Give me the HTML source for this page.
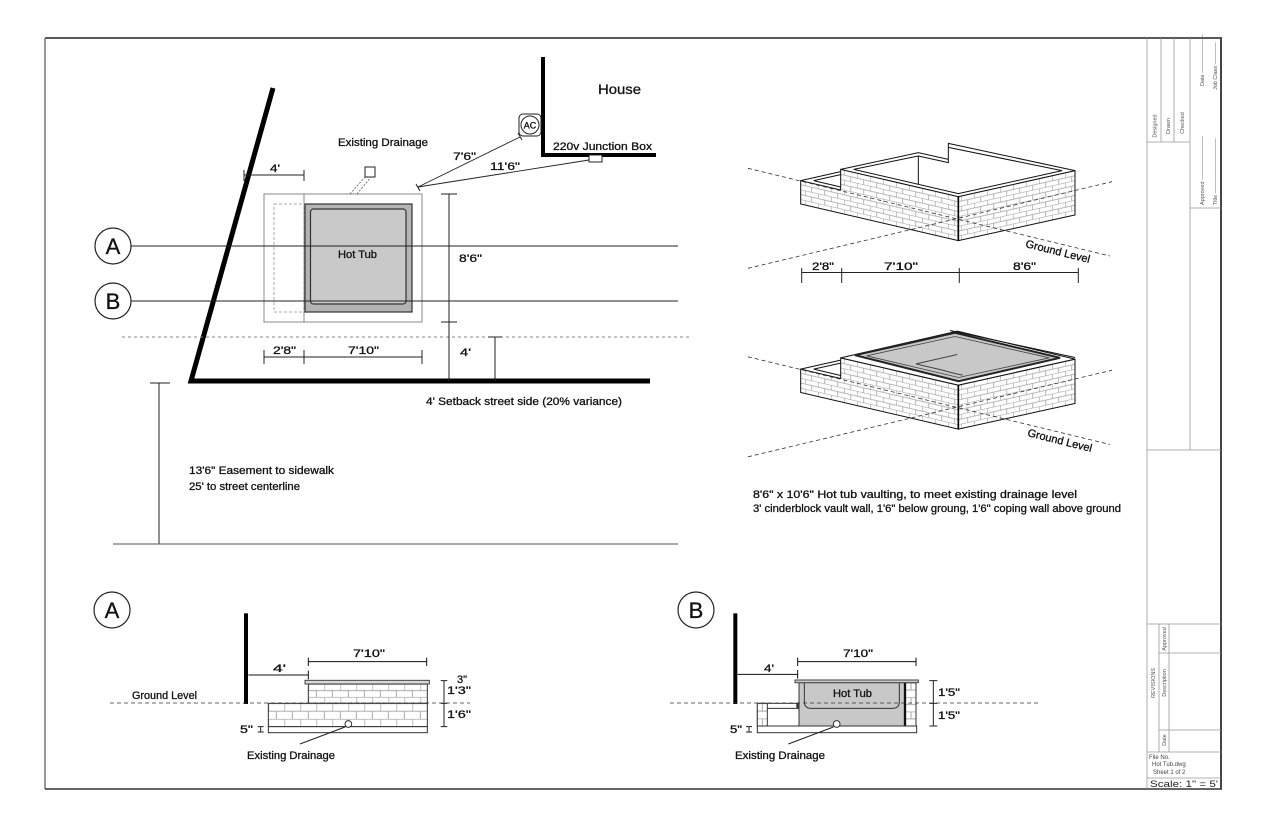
<!DOCTYPE html>
<html><head><meta charset="utf-8"><style>
html,body{margin:0;padding:0;background:#fff;}
svg{display:block;}
text{font-family:"Liberation Sans",sans-serif;fill:#111;stroke:#111;stroke-width:0.3px;}
.t{font-size:11px;}
.tb{font-size:5.5px;fill:#555;stroke:none;}
.tn{stroke:none;}
</style></head><body>
<svg xmlns="http://www.w3.org/2000/svg" width="1280" height="828" viewBox="0 0 1280 828">
<defs>
<pattern id="bf" patternUnits="userSpaceOnUse" width="39" height="29.4" patternTransform="translate(0,47.8) skewY(13.08)">
<rect width="39" height="29.4" fill="#fff"/>
<path d="M0,0.6H39M0,15.3H39M0.6,0.6V15.3M20,15.3V29.4" stroke="#a8a8a8" stroke-width="2.5" fill="none"/>
</pattern>
<pattern id="br" patternUnits="userSpaceOnUse" width="39" height="29.4" patternTransform="translate(0,346) skewY(-12.57)">
<rect width="39" height="29.4" fill="#fff"/>
<path d="M0,0.6H39M0,15.3H39M0.6,0.6V15.3M20,15.3V29.4" stroke="#a8a8a8" stroke-width="2.5" fill="none"/>
</pattern>
<pattern id="sU" patternUnits="userSpaceOnUse" x="655" y="282" width="48" height="38.67">
<rect width="48" height="38.67" fill="#fff"/>
<path d="M0,0.8H48M0,19.8H48M0.8,0V19.33M24,19.33V38.67" stroke="#aaa" stroke-width="3" fill="none"/>
</pattern>
<pattern id="sL" patternUnits="userSpaceOnUse" x="535" y="340" width="48" height="46.67">
<rect width="48" height="46.67" fill="#fff"/>
<path d="M0,0.8H48M0,23.8H48M0.8,0V23.33M24,23.33V46.67" stroke="#aaa" stroke-width="3" fill="none"/>
</pattern>
<pattern id="sR" patternUnits="userSpaceOnUse" x="708" y="278" width="30" height="43.33">
<rect width="30" height="43.33" fill="#fff"/>
<path d="M0,0.8H30M0,22.2H30M15,0V21.67" stroke="#aaa" stroke-width="3" fill="none"/>
</pattern>
<pattern id="sLL" patternUnits="userSpaceOnUse" x="262" y="340" width="30" height="45.33">
<rect width="30" height="45.33" fill="#fff"/>
<path d="M0,0.8H30M0,23.2H30M15,0V22.67" stroke="#aaa" stroke-width="3" fill="none"/>
</pattern>
</defs>

<!-- Border -->
<line x1="45" y1="38" x2="1222" y2="38" stroke="#222" stroke-width="1.5"/>
<line x1="45" y1="38" x2="45" y2="789" stroke="#777" stroke-width="1.5"/>
<line x1="45" y1="789" x2="1222" y2="789" stroke="#333" stroke-width="1.5"/>
<line x1="1221" y1="38" x2="1221" y2="789" stroke="#444" stroke-width="2"/>

<!-- Title block -->
<g stroke="#999" stroke-width="0.8" fill="none">
<line x1="1147" y1="38" x2="1147" y2="789"/>
<line x1="1161" y1="38" x2="1161" y2="142"/>
<line x1="1174" y1="38" x2="1174" y2="142"/>
<line x1="1190" y1="38" x2="1190" y2="450"/>
<line x1="1147" y1="142" x2="1190" y2="142"/>
<line x1="1190" y1="208" x2="1221" y2="208"/>
<line x1="1147" y1="450" x2="1221" y2="450"/>
<line x1="1147" y1="624" x2="1221" y2="624"/>
<line x1="1159" y1="624" x2="1159" y2="752"/>
<line x1="1169" y1="624" x2="1169" y2="752"/>
<line x1="1159" y1="653" x2="1221" y2="653"/>
<line x1="1159" y1="730" x2="1221" y2="730"/>
<line x1="1147" y1="752" x2="1221" y2="752"/>
<line x1="1147" y1="778" x2="1221" y2="778"/>
</g>
<text class="tb" text-anchor="middle" transform="translate(1156.5,126) rotate(-90)">Designed</text>
<text class="tb" text-anchor="middle" transform="translate(1170,126) rotate(-90)">Drawn</text>
<text class="tb" text-anchor="middle" transform="translate(1184,123) rotate(-90)">Checked</text>
<text class="tb" transform="translate(1204,86) rotate(-90)">Date ———————</text>
<text class="tb" transform="translate(1217,90) rotate(-90)">Job Class ————</text>
<text class="tb" transform="translate(1204,205) rotate(-90)">Approved ————————</text>
<text class="tb" transform="translate(1217,205) rotate(-90)">Title ——————————</text>
<text class="tb" text-anchor="middle" transform="translate(1155,683) rotate(-90)">REVISIONS</text>
<text class="tb" text-anchor="middle" transform="translate(1166,639) rotate(-90)">Approved</text>
<text class="tb" text-anchor="middle" transform="translate(1166,683) rotate(-90)">Description</text>
<text class="tb" text-anchor="middle" transform="translate(1166,740) rotate(-90)">Date</text>
<text class="tn" x="1149" y="759" style="font-size:6px;fill:#444">File No.</text>
<text class="tn" x="1152" y="766" style="font-size:6px;fill:#444">Hot Tub.dwg</text>
<text class="tn" x="1153" y="774" style="font-size:6px;fill:#444">Sheet   1  of  2</text>
<text class="tn" x="1150" y="787" style="font-size:9px;fill:#222" textLength="68" lengthAdjust="spacingAndGlyphs">Scale:  1" = 5'</text>

<!-- ================= PLAN ================= -->
<polyline points="273,88 191,381 650,381" fill="none" stroke="#000" stroke-width="5" stroke-linejoin="miter"/>
<polyline points="543,57 543,155 656,155" fill="none" stroke="#000" stroke-width="4"/>

<line x1="122" y1="337" x2="690" y2="337" stroke="#888" stroke-width="0.9" stroke-dasharray="3 3"/>

<rect x="264" y="194" width="158" height="128" fill="none" stroke="#888" stroke-width="1"/>
<line x1="304" y1="194" x2="304" y2="322" stroke="#888" stroke-width="1"/>
<rect x="274" y="204" width="30" height="108" fill="none" stroke="#aaa" stroke-width="1" stroke-dasharray="3 2"/>
<rect x="305" y="204" width="107" height="108" fill="#b4b4b4" stroke="#333" stroke-width="1.2"/>
<rect x="310.5" y="209" width="95.5" height="95" rx="3" fill="#c9c9c9" stroke="#333" stroke-width="1.2"/>

<line x1="131" y1="246" x2="678" y2="246" stroke="#222" stroke-width="1"/>
<line x1="131" y1="301" x2="678" y2="301" stroke="#222" stroke-width="1"/>
<circle cx="113" cy="246" r="18" fill="#fff" stroke="#222" stroke-width="1.2"/>
<circle cx="113" cy="301" r="18" fill="#fff" stroke="#222" stroke-width="1.2"/>
<text x="113" y="254" text-anchor="middle" style="font-size:22px">A</text>
<text x="113" y="309" text-anchor="middle" style="font-size:22px">B</text>

<rect x="365" y="167" width="10" height="10" fill="#fff" stroke="#222" stroke-width="1"/>
<line x1="350" y1="194" x2="365" y2="177" stroke="#555" stroke-width="0.8" stroke-dasharray="2 1.5"/>
<line x1="357" y1="194" x2="371" y2="177" stroke="#555" stroke-width="0.8" stroke-dasharray="2 1.5"/>

<rect x="519" y="114" width="22" height="22" rx="4" fill="#fff" stroke="#222" stroke-width="1"/>
<circle cx="530" cy="125" r="9" fill="#fff" stroke="#222" stroke-width="1"/>
<text x="530" y="128.5" text-anchor="middle" style="font-size:9px">AC</text>
<rect x="589" y="155" width="13" height="7" fill="#fff" stroke="#222" stroke-width="1"/>

<line x1="418" y1="187" x2="520" y2="137" stroke="#222" stroke-width="0.9"/>
<line x1="418" y1="187" x2="589" y2="160" stroke="#222" stroke-width="0.9"/>
<line x1="416" y1="184" x2="420" y2="191" stroke="#222" stroke-width="1"/>
<line x1="518" y1="133" x2="522" y2="140" stroke="#222" stroke-width="1"/>

<g stroke="#222" stroke-width="1" fill="none">
<path d="M244,175H304M244,170V181M304,170V181"/>
<path d="M449,194V381M441,194H457M441,322H457"/>
<path d="M264,357H422M264,350V364M304,350V364M422,350V364"/>
<path d="M495,337V381M488,337H502"/>
<path d="M159,383V544M150,383H170"/>
</g>
<line x1="113" y1="544" x2="678" y2="544" stroke="#555" stroke-width="1"/>

<text x="598" y="94" style="font-size:14px" textLength="43" lengthAdjust="spacingAndGlyphs">House</text>
<text class="t" x="553" y="150" textLength="99" lengthAdjust="spacingAndGlyphs">220v Junction Box</text>
<text class="t" x="338" y="146" textLength="90" lengthAdjust="spacingAndGlyphs">Existing Drainage</text>
<text class="t" x="453" y="160" textLength="23" lengthAdjust="spacingAndGlyphs">7'6"</text>
<text class="t" x="490" y="170" textLength="30" lengthAdjust="spacingAndGlyphs">11'6"</text>
<text class="t" x="270" y="172" textLength="10" lengthAdjust="spacingAndGlyphs">4'</text>
<text class="t" x="338" y="258" textLength="39" lengthAdjust="spacingAndGlyphs">Hot Tub</text>
<text class="t" x="459" y="262" textLength="23" lengthAdjust="spacingAndGlyphs">8'6"</text>
<text class="t" x="273" y="354" textLength="23" lengthAdjust="spacingAndGlyphs">2'8"</text>
<text class="t" x="348" y="354" textLength="31" lengthAdjust="spacingAndGlyphs">7'10"</text>
<text class="t" x="460" y="356" textLength="11" lengthAdjust="spacingAndGlyphs">4'</text>
<text class="t" x="426" y="405" textLength="196" lengthAdjust="spacingAndGlyphs">4' Setback street side (20% variance)</text>
<text class="t" x="189" y="474" textLength="145" lengthAdjust="spacingAndGlyphs">13'6" Easement to sidewalk</text>
<text class="t" x="189" y="490" textLength="111" lengthAdjust="spacingAndGlyphs">25' to street centerline</text>

<!-- ================= ISO 1 ================= -->
<g transform="translate(740,130) scale(0.333333)" stroke-linejoin="miter">
<polygon points="182,152 302,180 302,118 655,200 655,332 182,222" fill="url(#bf)" stroke="#111" stroke-width="3"/>
<polygon points="655,200 1005,122 1005,255 655,332" fill="url(#br)" stroke="#111" stroke-width="3"/>
<path d="M182,152L302,125M221,152L302,134M221,152L302,171M302,118L535,68L625,88L625,40L1005,122M341,118L535,78L535,164M535,78L625,98L625,52L966,122L655,191L341,118" fill="none" stroke="#111" stroke-width="3"/>
<line x1="655" y1="200" x2="655" y2="332" stroke="#000" stroke-width="5"/>
</g>
<line x1="748" y1="168.3" x2="1110" y2="256" stroke="#333" stroke-width="0.8" stroke-dasharray="4 3"/>
<line x1="748" y1="268.3" x2="1112" y2="181.7" stroke="#333" stroke-width="0.8" stroke-dasharray="4 3"/>
<text class="t" text-anchor="middle" transform="translate(1057,255) rotate(14)" textLength="66" lengthAdjust="spacingAndGlyphs">Ground Level</text>
<g stroke="#222" stroke-width="1" fill="none">
<path d="M801.7,272.5H1078.3M801.7,268V283M841.7,268V283M959.3,268V283M1078.3,268V283"/>
</g>
<text class="t" x="812" y="270" textLength="22" lengthAdjust="spacingAndGlyphs">2'8"</text>
<text class="t" x="884" y="270" textLength="34" lengthAdjust="spacingAndGlyphs">7'10"</text>
<text class="t" x="1013" y="270" textLength="23" lengthAdjust="spacingAndGlyphs">8'6"</text>

<!-- ================= ISO 2 ================= -->
<g transform="translate(740,318.5) scale(0.333333)">
<polygon points="182,152 302,180 302,118 655,200 655,332 182,222" fill="url(#bf)" stroke="#111" stroke-width="3"/>
<polygon points="655,200 1005,122 1005,255 655,332" fill="url(#br)" stroke="#111" stroke-width="3"/>
<polygon points="302,118 652,38 1005,122 655,200" fill="#fff" stroke="#111" stroke-width="3"/>
<path d="M182,152L302,125M221,152L302,134M221,152L302,171M630,36L1005,117" fill="none" stroke="#111" stroke-width="3"/>
<polygon points="345,110 645,43 960,118 656,188" fill="#c8c8c8" stroke="#222" stroke-width="6"/>
<polygon points="380,112 645,54 928,118 656,177" fill="none" stroke="#444" stroke-width="2.5"/>
<path d="M528,136L652,108M528,136L612,156Q630,162 668,170" fill="none" stroke="#444" stroke-width="3"/>
<line x1="655" y1="200" x2="655" y2="332" stroke="#000" stroke-width="5"/>
</g>
<line x1="748" y1="356.8" x2="1110" y2="444.5" stroke="#333" stroke-width="0.8" stroke-dasharray="4 3"/>
<line x1="748" y1="456.8" x2="1112" y2="370.2" stroke="#333" stroke-width="0.8" stroke-dasharray="4 3"/>
<text class="t" text-anchor="middle" transform="translate(1059,444) rotate(14)" textLength="66" lengthAdjust="spacingAndGlyphs">Ground Level</text>

<text class="t" x="753" y="498" textLength="324" lengthAdjust="spacingAndGlyphs">8'6" x 10'6" Hot tub vaulting, to meet existing drainage level</text>
<text class="t" x="753" y="512" textLength="368" lengthAdjust="spacingAndGlyphs">3' cinderblock vault wall, 1'6" below groung, 1'6" coping wall above ground</text>

<!-- ================= SECTION A ================= -->
<circle cx="112" cy="610" r="18" fill="#fff" stroke="#222" stroke-width="1.2"/>
<text x="112" y="618" text-anchor="middle" style="font-size:22px">A</text>
<g transform="translate(90,590) scale(0.333333)">
<rect x="462" y="70" width="12" height="272" fill="#000"/>
<path d="M475,255H655M655,242V268M655,215H1010M655,203V228M1010,203V228" stroke="#111" stroke-width="3" fill="none"/>
<rect x="645" y="271" width="373" height="11" fill="#d8d8d8" stroke="#444" stroke-width="3"/>
<rect x="655" y="282" width="357" height="58" fill="url(#sU)" stroke="#333" stroke-width="3"/>
<rect x="535" y="340" width="477" height="70" fill="url(#sL)" stroke="#333" stroke-width="3"/>
<rect x="535" y="410" width="477" height="18" fill="#fff" stroke="#333" stroke-width="3"/>
<circle cx="775" cy="402" r="10" fill="#fff" stroke="#333" stroke-width="3"/>
<path d="M765,411L630,462M503,410H521M512,410V426M503,426H521M1062,272V410M1052,272H1072M1052,340H1072M1052,410H1072" stroke="#222" stroke-width="3" fill="none"/>
</g>
<line x1="110" y1="703" x2="470" y2="703" stroke="#333" stroke-width="0.8" stroke-dasharray="4 3"/>
<text class="t" x="132" y="699" textLength="65" lengthAdjust="spacingAndGlyphs">Ground Level</text>
<text class="t" x="273" y="672" textLength="13" lengthAdjust="spacingAndGlyphs">4'</text>
<text class="t" x="353" y="657" textLength="32" lengthAdjust="spacingAndGlyphs">7'10"</text>
<text class="t" x="457" y="683" textLength="10" lengthAdjust="spacingAndGlyphs">3"</text>
<text class="t" x="447" y="694" textLength="24" lengthAdjust="spacingAndGlyphs">1'3"</text>
<text class="t" x="447" y="718" textLength="24" lengthAdjust="spacingAndGlyphs">1'6"</text>
<text class="t" x="240" y="733" textLength="13" lengthAdjust="spacingAndGlyphs">5"</text>
<text class="t" x="247" y="759" textLength="88" lengthAdjust="spacingAndGlyphs">Existing Drainage</text>

<!-- ================= SECTION B ================= -->
<circle cx="696" cy="610" r="18" fill="#fff" stroke="#222" stroke-width="1.2"/>
<text x="696" y="618" text-anchor="middle" style="font-size:22px">B</text>
<g transform="translate(670,590) scale(0.333333)">
<rect x="190" y="70" width="12" height="272" fill="#000"/>
<path d="M203,253H383M383,240V266M383,215H738M383,203V228M738,203V228" stroke="#111" stroke-width="3" fill="none"/>
<rect x="262" y="340" width="125" height="68" fill="#fff" stroke="#333" stroke-width="3"/>
<rect x="262" y="340" width="30" height="68" fill="url(#sLL)" stroke="#333" stroke-width="3"/>
<path d="M292,355H387" stroke="#333" stroke-width="3"/>
<rect x="379" y="340" width="10" height="15" fill="#333"/>
<rect x="387" y="278" width="318" height="130" fill="#c8c8c8" stroke="#333" stroke-width="3"/>
<path d="M403,278V335Q403,355 423,355H668Q688,355 688,335V278" fill="none" stroke="#333" stroke-width="3"/>
<rect x="705" y="278" width="33" height="130" fill="url(#sR)" stroke="#333" stroke-width="3"/>
<path d="M705,278V408" stroke="#111" stroke-width="7"/>
<rect x="375" y="270" width="370" height="8" fill="#ccc" stroke="#444" stroke-width="3"/>
<rect x="262" y="408" width="478" height="20" fill="#fff" stroke="#333" stroke-width="3"/>
<circle cx="500" cy="402" r="10" fill="#fff" stroke="#333" stroke-width="3"/>
<path d="M490,411L355,462M228,410H246M237,410V426M228,426H246M790,272V408M778,272H802M778,340H802M778,408H802" stroke="#222" stroke-width="3" fill="none"/>
</g>
<line x1="670" y1="703" x2="1038" y2="703" stroke="#333" stroke-width="0.8" stroke-dasharray="4 3"/>
<text class="t" x="764" y="672" textLength="10" lengthAdjust="spacingAndGlyphs">4'</text>
<text class="t" x="843" y="657" textLength="30" lengthAdjust="spacingAndGlyphs">7'10"</text>
<text class="t" x="833" y="697" textLength="39" lengthAdjust="spacingAndGlyphs">Hot Tub</text>
<text class="t" x="938" y="696" textLength="22" lengthAdjust="spacingAndGlyphs">1'5"</text>
<text class="t" x="938" y="719" textLength="22" lengthAdjust="spacingAndGlyphs">1'5"</text>
<text class="t" x="730" y="733" textLength="12" lengthAdjust="spacingAndGlyphs">5"</text>
<text class="t" x="735" y="759" textLength="90" lengthAdjust="spacingAndGlyphs">Existing Drainage</text>
</svg>
</body></html>
